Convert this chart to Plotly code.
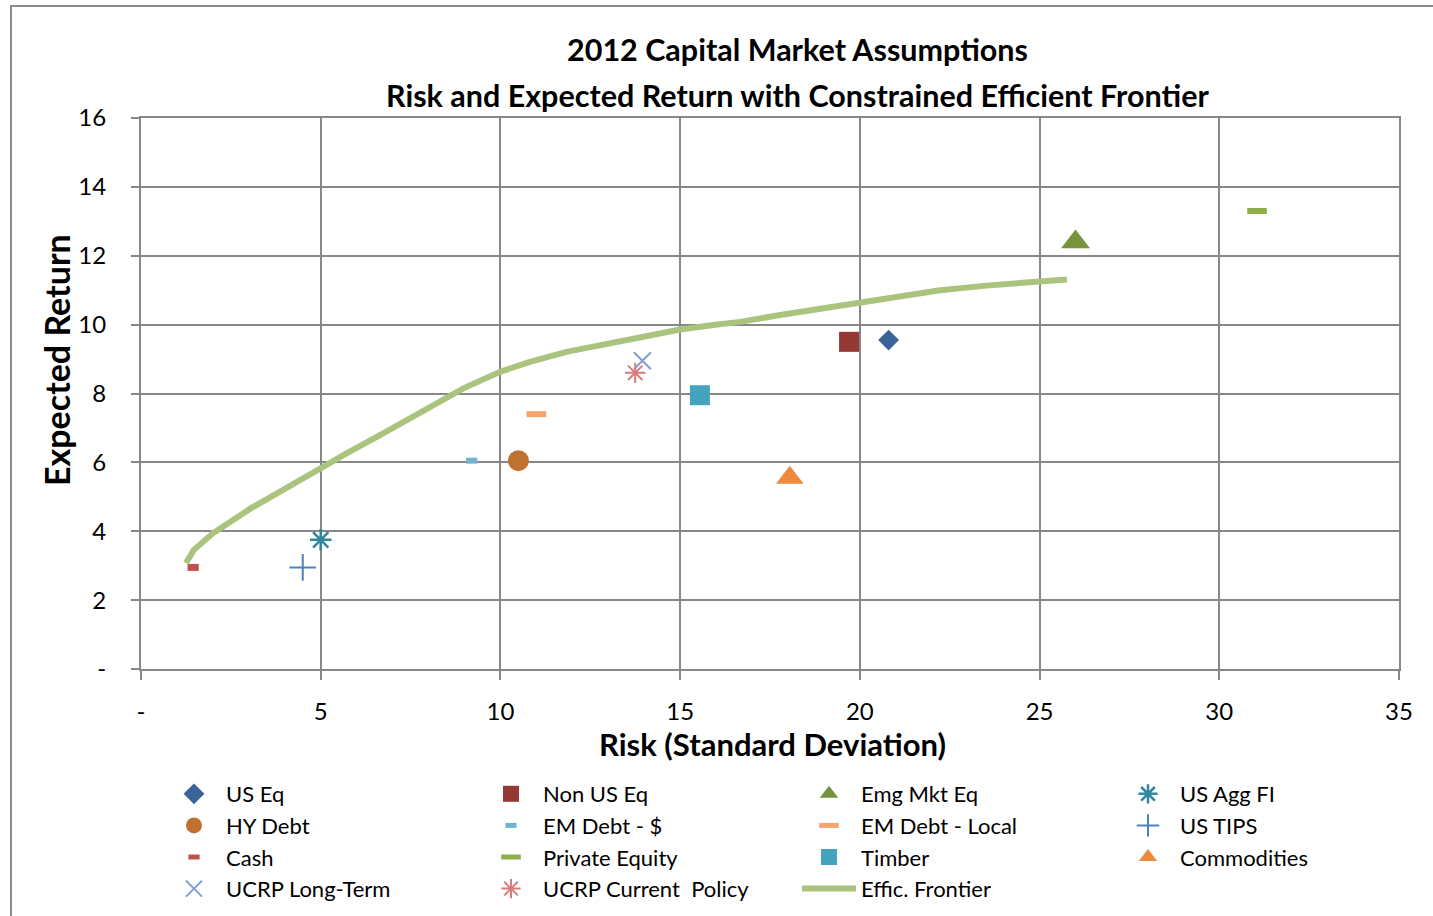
import plotly.graph_objects as go

# ---- data ----
asset_names = ["US Eq", "Non US Eq", "Emg Mkt Eq", "US Agg FI",
               "HY Debt", "EM Debt - $", "EM Debt - Local", "US TIPS",
               "Cash", "Private Equity", "Timber", "Commodities",
               "UCRP Long-Term", "UCRP Current  Policy"]
asset_risk = [20.8, 19.7, 26.0, 5.0,
              10.5, 9.2, 11.0, 4.5,
              1.45, 31.05, 15.55, 18.05,
              13.95, 13.75]
asset_return = [9.55, 9.5, 12.4, 3.75,
                6.05, 6.05, 7.4, 2.95,
                2.95, 13.3, 7.95, 5.55,
                8.95, 8.6]

frontier_name = "Effic. Frontier"
frontier_risk = [1.25, 1.47, 2.0, 2.53, 3.06, 3.7, 4.45, 5.01, 5.73, 6.65, 7.58,
                 8.3, 8.97, 9.99, 10.82, 11.84, 12.77, 13.79, 15.0, 15.92, 16.67,
                 17.78, 18.9, 20.0, 21.1, 22.23, 23.6, 25.01, 25.76]
frontier_return = [3.08, 3.46, 3.94, 4.33, 4.67, 5.05, 5.5, 5.87, 6.27, 6.79, 7.33,
                   7.75, 8.15, 8.63, 8.92, 9.21, 9.41, 9.6, 9.86, 9.99, 10.08,
                   10.28, 10.47, 10.66, 10.84, 11.0, 11.14, 11.27, 11.31]

x_tickvals = [0, 5, 10, 15, 20, 25, 30, 35]
x_ticktext = ["-", "5", "10", "15", "20", "25", "30", "35"]
y_tickvals = [0, 2, 4, 6, 8, 10, 12, 14, 16]
y_ticktext = ["-", "2", "4", "6", "8", "10", "12", "14", "16"]

# ---- styles ----
styles = [
    dict(symbol="diamond", size=16, color="#3A6399", lw=0),
    dict(symbol="square", size=20, color="#953735", lw=0),
    dict(symbol="triangle-up", size=25, color="#77933C", lw=0),
    dict(symbol="asterisk-open", size=18, color="#31859C", lw=2.5),
    dict(symbol="circle", size=21, color="#C0712F", lw=0),
    dict(symbol="line-ew-open", size=8, color="#71B4CF", lw=6),
    dict(symbol="line-ew-open", size=14, color="#F7A46D", lw=6),
    dict(symbol="cross-thin-open", size=19, color="#4F81BD", lw=2),
    dict(symbol="line-ew-open", size=8, color="#C0504D", lw=7),
    dict(symbol="line-ew-open", size=14, color="#8DB04A", lw=6),
    dict(symbol="square", size=20, color="#45A4BD", lw=0),
    dict(symbol="triangle-up", size=24, color="#EE8A3E", lw=0),
    dict(symbol="x-thin-open", size=17, color="#7F9DD2", lw=2),
    dict(symbol="asterisk-open", size=17, color="#D87C7A", lw=2),
]
legend_ids = ["legend", "legend2", "legend3", "legend4"]
legend_col_left_px = [162, 479, 797, 1116]

FONT = "Lato"
GRID = "#878787"
PW, PH = 1258, 551  # plot area size in px
L, T = 141, 118


def px_x(px):
    return (px - L) / PW


def px_y(py):
    return 1 - (py - T) / PH


fig = go.Figure()
for i, name in enumerate(asset_names):
    s = styles[i]
    fig.add_trace(go.Scatter(
        x=[asset_risk[i]], y=[asset_return[i]], mode="markers", name=name,
        legend=legend_ids[i % 4],
        marker=dict(symbol=s["symbol"], size=s["size"], color=s["color"],
                    line=dict(color=s["color"], width=s["lw"])),
        cliponaxis=False))

fig.add_trace(go.Scatter(
    x=frontier_risk, y=frontier_return, mode="lines", name=frontier_name,
    legend=legend_ids[2],
    line=dict(color="#AAC47E", width=6)))


def make_legend(left_px):
    return dict(orientation="v", x=px_x(left_px), xanchor="left", y=px_y(773), yanchor="top",
                font=dict(family=FONT, size=22, color="#000000"),
                bgcolor="rgba(0,0,0,0)", tracegroupgap=0, itemsizing="trace",
                itemwidth=54)


fig.update_layout(
    width=1433, height=916,
    margin=dict(l=L, r=1433 - L - PW, t=T, b=916 - T - PH, autoexpand=False),
    paper_bgcolor="white", plot_bgcolor="white",
    font=dict(family=FONT, color="#000000"),
    showlegend=True,
    legend=make_legend(legend_col_left_px[0]),
    legend2=make_legend(legend_col_left_px[1]),
    legend3=make_legend(legend_col_left_px[2]),
    legend4=make_legend(legend_col_left_px[3]),
    xaxis=dict(range=[0, 35], tickvals=x_tickvals, ticktext=x_ticktext,
               showgrid=True, gridcolor=GRID, gridwidth=2,
               showline=True, linecolor=GRID, linewidth=2, mirror=True,
               ticks="outside", ticklen=9, tickwidth=2, tickcolor=GRID,
               ticklabelstandoff=11, zeroline=False,
               tickfont=dict(family=FONT, size=24, color="#000000")),
    yaxis=dict(range=[0, 16], tickvals=y_tickvals, ticktext=y_ticktext,
               showgrid=True, gridcolor=GRID, gridwidth=2,
               showline=True, linecolor=GRID, linewidth=2, mirror=True,
               ticks="outside", ticklen=8, tickwidth=2, tickcolor=GRID,
               ticklabelstandoff=20, zeroline=False,
               tickfont=dict(family=FONT, size=24, color="#000000")),
    shapes=[dict(type="rect", xref="paper", yref="paper",
                 x0=px_x(11), x1=1.2, y0=-0.6, y1=px_y(6),
                 line=dict(color="#8C8C8C", width=2), fillcolor="rgba(0,0,0,0)",
                 layer="below")],
    annotations=[
        dict(text="<b>2012 Capital Market Assumptions</b>", xref="paper", yref="paper",
             x=px_x(797), y=px_y(49), xanchor="center", yanchor="middle",
             showarrow=False, font=dict(family=FONT, size=30.5, color="#000000")),
        dict(text="<b>Risk and Expected Return with Constrained Efficient Frontier</b>",
             xref="paper", yref="paper",
             x=px_x(797), y=px_y(95), xanchor="center", yanchor="middle",
             showarrow=False, font=dict(family=FONT, size=30.5, color="#000000")),
        dict(text="<b>Risk (Standard Deviation)</b>", xref="paper", yref="paper",
             x=px_x(773), y=px_y(744), xanchor="center", yanchor="middle",
             showarrow=False, font=dict(family=FONT, size=31, color="#000000")),
        dict(text="<b>Expected Return</b>", xref="paper", yref="paper", textangle=-90,
             x=px_x(56), y=px_y(360), xanchor="center", yanchor="middle",
             showarrow=False, font=dict(family=FONT, size=34, color="#000000")),
    ],
)

fig.write_html("out.html", config={"displayModeBar": False},
               post_script="document.body.style.margin='0px';")
